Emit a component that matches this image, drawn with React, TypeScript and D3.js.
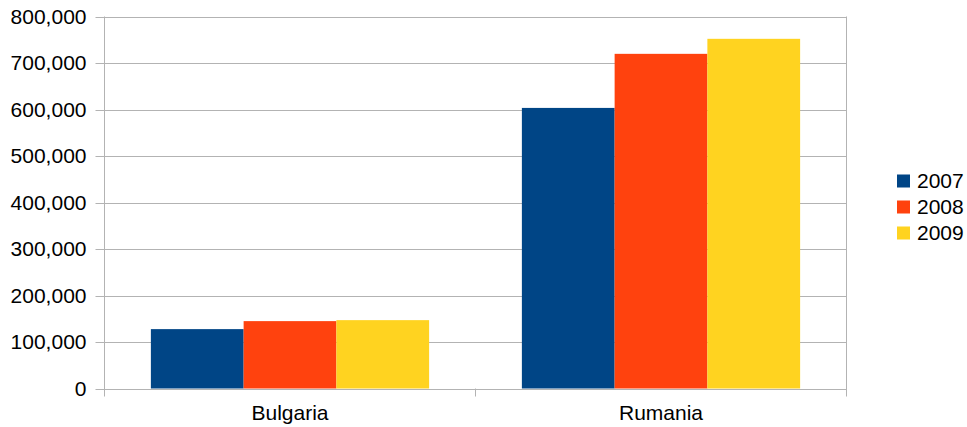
import React from "react";
import * as d3 from "d3";

const categories = ["Bulgaria", "Rumania"];
const years = ["2007", "2008", "2009"];
const values2007 = [127700, 603400];
const values2008 = [144900, 719700];
const values2009 = [147000, 752000];
const yTicks = [0, 100000, 200000, 300000, 400000, 500000, 600000, 700000, 800000];
const colors = ["#004586", "#ff420e", "#ffd320"];

const series = [values2007, values2008, values2009];

const W = 967;
const H = 427;
const left = 104.5;
const right = 846.5;
const top = 16.5;
const bottom = 388.5;
const font = "'Liberation Sans', Arial, sans-serif";

export default function App() {
  const x = d3.scaleBand<string>().domain(categories).range([left, right]).paddingInner(0).paddingOuter(0);
  const inner = d3.scaleBand<string>().domain(years).range([0, x.bandwidth() * 0.75]);
  const y = d3.scaleLinear().domain([0, 800000]).range([bottom, top]);
  const fmt = d3.format(",");
  const gridColor = "#b3b3b3";

  return (
    <svg width={W} height={H} style={{ position: "absolute", left: 0, top: 0 }} fontFamily={font}>
      <rect x={0} y={0} width={W} height={H} fill="#fff" />
      {yTicks.map((t) => (
        <g key={t}>
          <line x1={left - 9} x2={right} y1={Math.round(y(t)) + 0.5} y2={Math.round(y(t)) + 0.5} stroke={gridColor} strokeWidth={1} />
          <text x={left - 18} y={y(t)} dy="0.35em" textAnchor="end" fontSize={21} fill="#000">
            {fmt(t)}
          </text>
        </g>
      ))}
      <line x1={left} x2={left} y1={top} y2={bottom + 8} stroke={gridColor} />
      <line x1={right} x2={right} y1={top} y2={bottom + 8} stroke={gridColor} />
      <line x1={x("Rumania")!} x2={x("Rumania")!} y1={bottom} y2={bottom + 8} stroke={gridColor} />
      {categories.map((c, ci) => {
        const x0 = x(c)! + x.bandwidth() * 0.125;
        return (
          <g key={c}>
            {series.map((s, si) => (
              <rect
                key={si}
                x={x0 + inner(years[si])!}
                y={y(s[ci])}
                width={inner.bandwidth()}
                height={y(0) - y(s[ci])}
                fill={colors[si]}
              />
            ))}
            <text x={x(c)! + x.bandwidth() / 2} y={413} dy="0.35em" textAnchor="middle" fontSize={21} fill="#000">
              {c}
            </text>
          </g>
        );
      })}
      {years.map((yr, i) => (
        <g key={yr} transform={`translate(897, ${181 + i * 26})`}>
          <rect x={0} y={-6.5} width={13} height={13} fill={colors[i]} />
          <text x={20} y={0} dy="0.35em" fontSize={21} fill="#000">
            {yr}
          </text>
        </g>
      ))}
    </svg>
  );
}
